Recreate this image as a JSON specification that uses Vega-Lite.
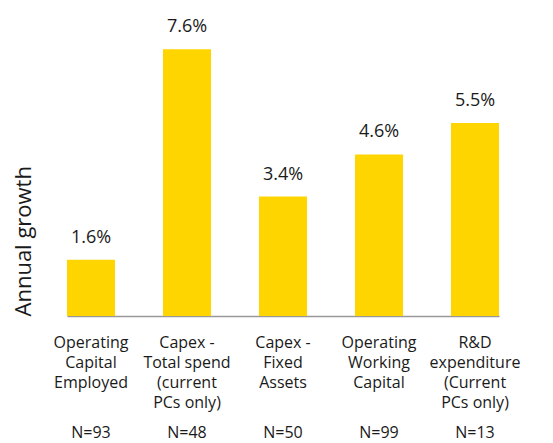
{
  "$schema": "https://vega.github.io/schema/vega-lite/v6.json",
  "width": 432,
  "height": 316,
  "autosize": {"type": "none"},
  "padding": {"left": 67, "top": 0, "right": 54, "bottom": 127},
  "config": {"view": {"stroke": null}, "font": "Open Sans"},
  "data": {
    "values": [
      {"category": "Operating|Capital|Employed", "growth": 0.016, "n": "N=93"},
      {"category": "Capex -|Total spend|(current|PCs only)", "growth": 0.076, "n": "N=48"},
      {"category": "Capex -|Fixed|Assets", "growth": 0.034, "n": "N=50"},
      {"category": "Operating|Working|Capital", "growth": 0.046, "n": "N=99"},
      {"category": "R&D|expenditure|(Current|PCs only)", "growth": 0.055, "n": "N=13"}
    ]
  },
  "encoding": {
    "x": {
      "field": "category",
      "type": "nominal",
      "sort": null,
      "scale": {"paddingInner": 0.5, "paddingOuter": 0},
      "axis": {
        "title": null,
        "labelAngle": 0,
        "labelExpr": "split(datum.label, '|')",
        "labelFontSize": 16,
        "labelLineHeight": 20,
        "labelColor": "#1a1a1a",
        "labelPadding": 18,
        "labelBaseline": "top",
        "ticks": false,
        "domainColor": "#999999",
        "domainWidth": 1.5
      }
    }
  },
  "layer": [
    {
      "mark": {"type": "bar", "color": "#FFD500"},
      "encoding": {
        "y": {
          "field": "growth",
          "type": "quantitative",
          "scale": {"domain": [0, 0.09]},
          "axis": {
            "title": "Annual growth",
            "labels": false,
            "ticks": false,
            "domain": false,
            "grid": false,
            "titleAnchor": "start",
            "titleFontSize": 22,
            "titleFontWeight": "normal",
            "titlePadding": 32,
            "titleColor": "#1a1a1a"
          }
        }
      }
    },
    {
      "mark": {"type": "text", "fontSize": 18, "baseline": "alphabetic", "dy": -17, "color": "#1a1a1a"},
      "encoding": {
        "y": {"field": "growth", "type": "quantitative"},
        "text": {"field": "growth", "type": "quantitative", "format": ".1%"}
      }
    },
    {
      "mark": {"type": "text", "fontSize": 16, "baseline": "middle", "color": "#1a1a1a"},
      "encoding": {
        "y": {"datum": -0.0333},
        "text": {"field": "n"}
      }
    }
  ]
}
